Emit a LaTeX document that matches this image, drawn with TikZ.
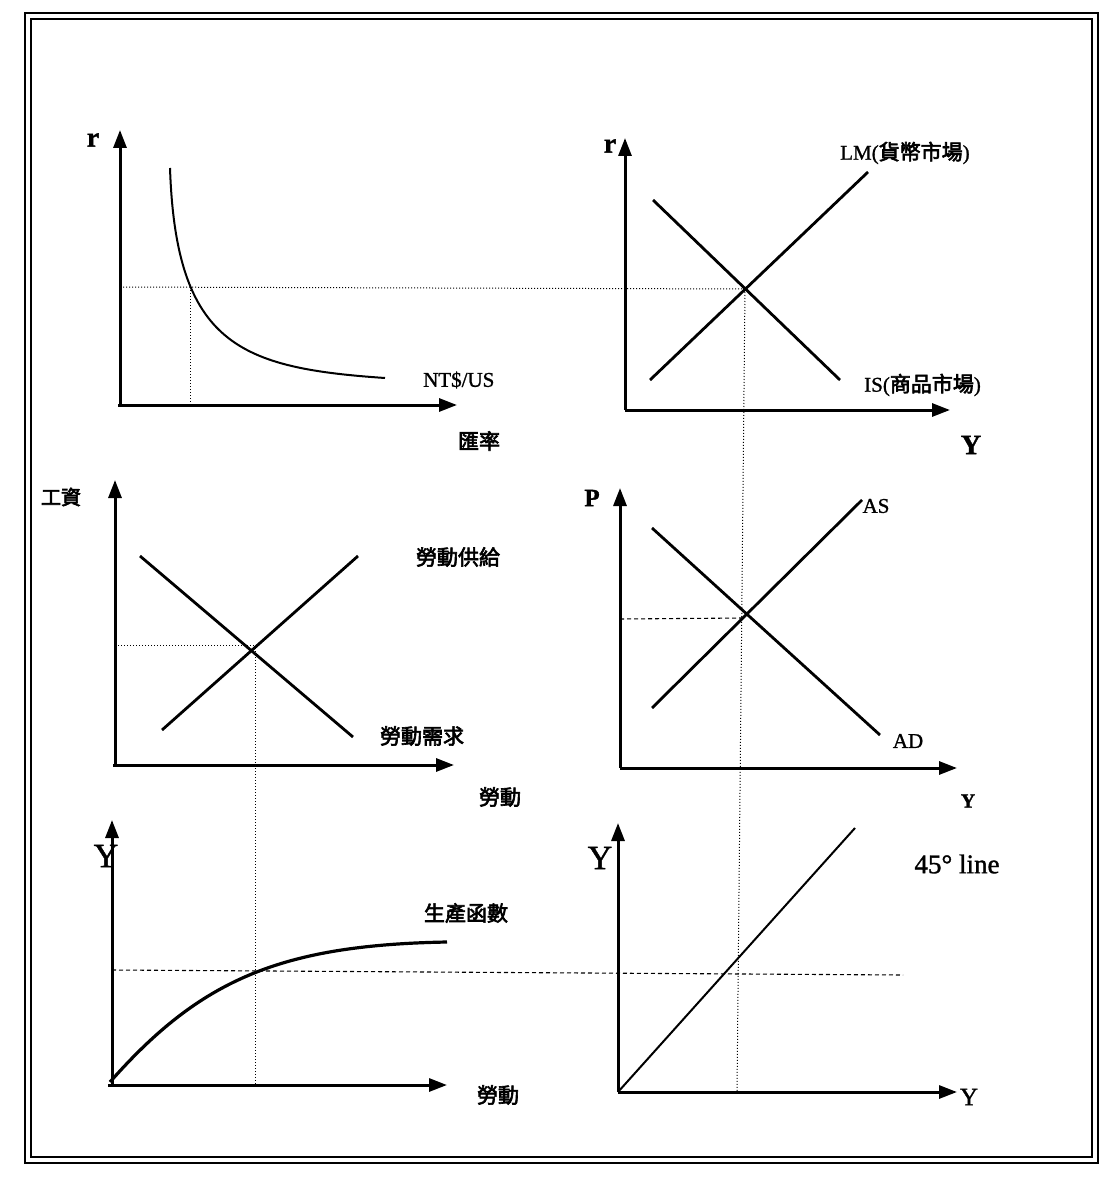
\documentclass[tikz,border=0pt]{standalone}
\usepackage{fontspec}
\setmainfont{Liberation Serif}[FakeBold=1.2]
\newfontfamily\cjk{Noto Sans CJK TC}[AutoFakeBold=3]
\usetikzlibrary{arrows.meta}
\tikzset{
  axis/.style={line width=3pt,-{Triangle[length=18pt,width=13pt]}},
  curve/.style={line width=2.8pt},
  guide/.style={line width=1pt,dotted},
  dguide/.style={line width=1.1pt,dash pattern=on 4pt off 3pt},
  lab/.style={inner sep=0pt,font=\fontsize{21}{23}\selectfont},
  clab/.style={inner sep=0pt,font=\fontsize{21}{23}\selectfont\cjk\bfseries},
  big/.style={inner sep=0pt,font=\fontsize{28}{30}\selectfont\bfseries},
}
\begin{document}
\begin{tikzpicture}[x=1pt,y=-1pt]
\useasboundingbox (0,0) rectangle (1105,1182);
% frame
\draw[line width=2.6pt] (25,13) rectangle (1098,1163);
\draw[line width=2pt] (31,19) rectangle (1092,1157);

% ---------- panel 1: exchange rate ----------
\coordinate (o1) at (120,405);
\draw[axis] (118,405) -- (457,405);
\draw[axis] (o1) -- (120,130);
\node[big] (r1) at (93,140) {r};
\draw[curve,line width=2pt] (170,168) .. controls (176,345) and (240,368) .. (385,378);
\coordinate (e1) at (190,287);
\node[lab,anchor=west] (nt) at (423,380) {NT\$/US};
\node[clab] (hl) at (479,441) {匯率};

% ---------- panel 2: IS-LM ----------
\draw[axis] (625,410) -- (950,410);
\draw[axis] (625,410) -- (625,138);
\node[big] (r2) at (610,146) {r};
\draw[curve] (650,380) -- (868,172);
\draw[curve] (653,200) -- (840,380);
\coordinate (e2) at (745,289);
\node[lab,anchor=west] (lm) at (840,153) {LM(\cjk\bfseries 貨幣市場\rmfamily\mdseries)};
\node[lab,anchor=west] (is) at (864,385) {IS(\cjk\bfseries 商品市場\rmfamily\mdseries)};
\node[big] (y2) at (971,445) {Y};
\draw[guide] (120,287) -- (e2);
\draw[guide] (190,287) -- (190,405);

% ---------- panel 3: labour market ----------
\draw[axis] (113,765) -- (454,765);
\draw[axis] (115,765) -- (115,480);
\node[clab,font=\fontsize{20}{22}\selectfont\cjk\bfseries] (w) at (61,497) {工資};
\draw[curve] (162,730) -- (358,556);
\draw[curve] (140,556) -- (353,737);
\coordinate (e3) at (255,645);
\node[clab] (ls) at (458,557) {勞動供給};
\node[clab] (ld) at (422,736) {勞動需求};
\node[clab] (l3) at (500,797) {勞動};
\draw[guide] (115,645) -- (e3);

% ---------- panel 4: AS-AD ----------
\draw[axis] (620,768) -- (957,768);
\draw[axis] (620,768) -- (620,488);
\node[big,font=\fontsize{25}{27}\selectfont\bfseries] (p) at (592,498) {P};
\draw[curve] (652,708) -- (862,500);
\draw[curve] (652,528) -- (880,735);
\coordinate (e4) at (744,618);
\node[lab] (as) at (876,506) {AS};
\node[lab] (ad) at (908,741) {AD};
\node[big,font=\fontsize{20}{22}\selectfont\bfseries] (y4) at (968,801) {Y};
\draw[dguide] (620,619) -- (e4);

% ---------- panel 5: production function ----------
\draw[axis] (108,1085) -- (447,1085);
\draw[axis] (112,1085) -- (112,820);
\node[big,font=\fontsize{34}{36}\selectfont] (y5) at (106,856) {Y};
\draw[curve,line width=3.2pt] (110,1082) .. controls (200,980) and (280,945) .. (447,942);
\coordinate (e5) at (255,970);
\node[clab] (pf) at (466,913) {生產函數};
\node[clab] (l5) at (498,1095) {勞動};
\draw[guide] (255,648) -- (255,1085);

% ---------- panel 6: 45 degree ----------
\draw[axis] (618,1092) -- (957,1092);
\draw[axis] (618,1092) -- (618,823);
\node[big,font=\fontsize{34}{36}\selectfont] (y6) at (600,858) {Y};
\draw[line width=2pt] (618,1092) -- (855,828);
\node[lab,font=\fontsize{27}{29}\selectfont] (fl) at (957,864) {45\textdegree\ line};
\node[big,font=\fontsize{25}{27}\selectfont] (y6b) at (969,1097) {Y};
\draw[dguide] (112,970) -- (903,975);
\draw[guide] (e2) -- (737,1092);
\end{tikzpicture}
\end{document}
